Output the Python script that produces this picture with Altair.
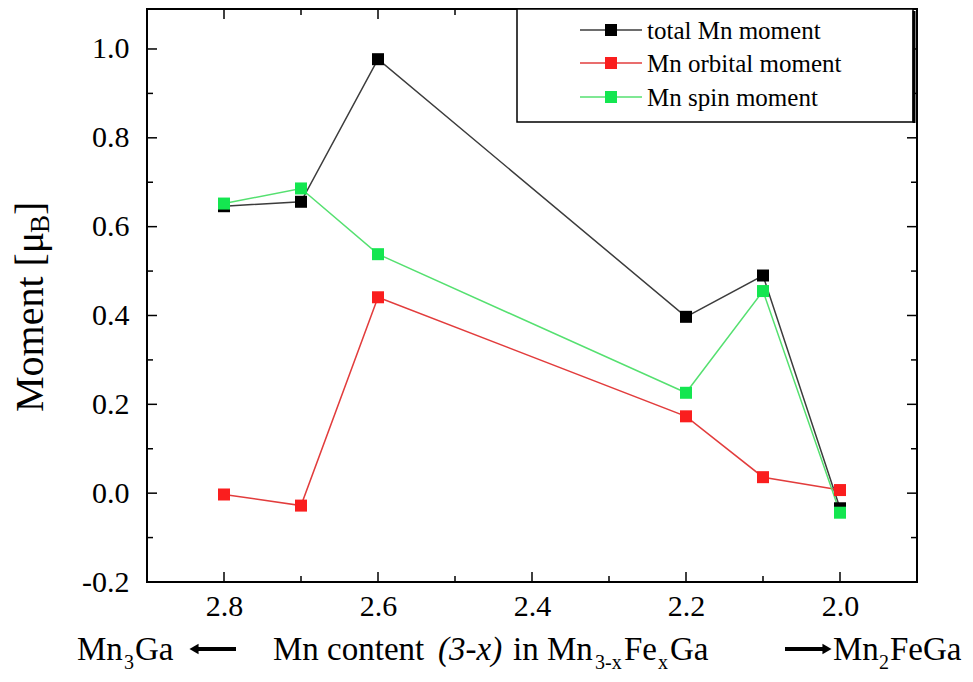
import altair as alt
import pandas as pd

# ---- data ----
mn_content = [2.8, 2.7, 2.6, 2.2, 2.1, 2.0]
total_moment = [0.646, 0.656, 0.977, 0.397, 0.490, -0.034]
orbital_moment = [-0.003, -0.028, 0.441, 0.173, 0.036, 0.007]
spin_moment = [0.652, 0.686, 0.538, 0.226, 0.455, -0.044]
series_names = ["total Mn moment", "Mn orbital moment", "Mn spin moment"]

x_major = [2.8, 2.6, 2.4, 2.2, 2.0]
x_minor = [2.7, 2.5, 2.3, 2.1]
y_major = [-0.2, 0.0, 0.2, 0.4, 0.6, 0.8, 1.0]
y_minor = [-0.1, 0.1, 0.3, 0.5, 0.7, 0.9]

rows = []
for name, vals in zip(series_names, [total_moment, orbital_moment, spin_moment]):
    for xv, mv in zip(mn_content, vals):
        rows.append({"series": name, "x": xv, "m": mv})
df = pd.DataFrame(rows)

W, H = 770, 573
FONT = "Liberation Serif, Times New Roman, serif"
line_colors = ["#3c3c3c", "#e23c3c", "#55e070"]
marker_colors = ["#000000", "#fa1e1e", "#14e650"]

xscale = alt.Scale(domain=[1.9, 2.9], reverse=True, nice=False, zero=False)
yscale = alt.Scale(domain=[-0.2, 1.09], nice=False, zero=False)

x_axis = alt.Axis(values=x_major, format=".1f", labelFont=FONT, labelFontSize=30,
                  labelColor="black", ticks=False, tickSize=0, domain=False, grid=False,
                  title=None, labelPadding=9, labelFlush=False)
y_axis = alt.Axis(values=y_major, labelFont=FONT, labelFontSize=30, labelColor="black",
                  labelExpr="datum.value < 0 ? '-' + format(-datum.value, '.1f') : format(datum.value, '.1f')",
                  ticks=False, tickSize=0, domain=False, grid=False, title=None,
                  labelPadding=18)

lines = alt.Chart(df).mark_line(strokeWidth=1.5).encode(
    x=alt.X("x:Q", scale=xscale, axis=x_axis),
    y=alt.Y("m:Q", scale=yscale, axis=y_axis),
    color=alt.Color("series:N", scale=alt.Scale(domain=series_names, range=line_colors), legend=None),
)
squares = alt.Chart(df).mark_square(size=144, opacity=1).encode(
    x=alt.X("x:Q", scale=xscale, axis=x_axis),
    y=alt.Y("m:Q", scale=yscale, axis=y_axis),
    color=alt.Color("series:N", scale=alt.Scale(domain=series_names, range=marker_colors), legend=None),
)

# inward ticks on all four sides
def xticks(vals, length, top):
    d = pd.DataFrame({"x": vals})
    y1, y2 = (0, length) if top else (H, H - length)
    return alt.Chart(d).mark_rule(color="black", strokeWidth=1.5).encode(
        x=alt.X("x:Q", scale=xscale, axis=x_axis), y=alt.value(y1), y2=alt.value(y2))

def yticks(vals, length, right):
    d = pd.DataFrame({"m": vals})
    x1, x2 = (W, W - length) if right else (0, length)
    return alt.Chart(d).mark_rule(color="black", strokeWidth=1.5).encode(
        y=alt.Y("m:Q", scale=yscale, axis=y_axis), x=alt.value(x1), x2=alt.value(x2))

ticks = [xticks(x_major, 10, False), xticks(x_minor, 6, False),
         xticks(x_major, 10, True), xticks(x_minor, 6, True),
         yticks(y_major, 10, False), yticks(y_minor, 6, False),
         yticks(y_major, 10, True), yticks(y_minor, 6, True)]

one = pd.DataFrame({"a": [0]})

# legend box
legend_box = alt.Chart(one).mark_rect(fill="white", stroke="black", strokeWidth=1.5).encode(
    x=alt.value(370), x2=alt.value(766), y=alt.value(0), y2=alt.value(113))
legend_shadow = alt.Chart(one).mark_rule(color="black", strokeWidth=3).encode(
    x=alt.value(767), y=alt.value(2), y2=alt.value(114))
legend_layers = [legend_box, legend_shadow]
row_y = [21, 54, 88]
for i, name in enumerate(series_names):
    legend_layers.append(alt.Chart(one).mark_rule(color=line_colors[i], strokeWidth=1.5).encode(
        x=alt.value(433), x2=alt.value(495), y=alt.value(row_y[i])))
    legend_layers.append(alt.Chart(one).mark_square(size=144, opacity=1, color=marker_colors[i]).encode(
        x=alt.value(464), y=alt.value(row_y[i])))
    legend_layers.append(alt.Chart(pd.DataFrame({"t": [name]})).mark_text(
        font=FONT, fontSize=25, align="left", baseline="middle", color="black").encode(
        text="t:N", x=alt.value(500), y=alt.value(row_y[i] + 1)))

def txt(s, x, y, size, style="normal", angle=0):
    return alt.Chart(pd.DataFrame({"t": [s]})).mark_text(
        font=FONT, fontSize=size, fontStyle=style, align="left", baseline="alphabetic",
        color="black", angle=angle).encode(text="t:N", x=alt.value(x), y=alt.value(y))

BASE, SUB = 651, 660
MAIN, SMALL = 33, 20
title_parts = [
    txt("Mn", -70, BASE, MAIN), txt("3", -23, SUB, SMALL), txt("Ga", -12, BASE, MAIN),
    txt("Mn content", 126, BASE, MAIN), txt("(3-x)", 291, BASE, MAIN, "italic"),
    txt("in", 366, BASE, MAIN), txt("Mn", 400, BASE, MAIN), txt("3-x", 448, SUB, SMALL),
    txt("Fe", 477, BASE, MAIN), txt("x", 511, SUB, SMALL), txt("Ga", 523, BASE, MAIN),
    txt("Mn", 686, BASE, MAIN), txt("2", 732, SUB, SMALL), txt("FeGa", 743, BASE, MAIN),
    # y title (rotated)
    txt("Moment [\u03bc", -104, 403, 40, angle=270),
    txt("B", -98, 224, 27, angle=270),
    txt("]", -104, 206, 40, angle=270),
]

# arrows
arrows = [
    alt.Chart(one).mark_rule(color="black", strokeWidth=4).encode(
        x=alt.value(50), x2=alt.value(89), y=alt.value(640)),
    alt.Chart(one).mark_point(shape="triangle-left", filled=True, size=110, color="black", opacity=1).encode(
        x=alt.value(47), y=alt.value(640)),
    alt.Chart(one).mark_rule(color="black", strokeWidth=4).encode(
        x=alt.value(638), x2=alt.value(677), y=alt.value(640)),
    alt.Chart(one).mark_point(shape="triangle-right", filled=True, size=110, color="black", opacity=1).encode(
        x=alt.value(680), y=alt.value(640)),
]

chart = alt.layer(lines, squares, *ticks, *legend_layers, *title_parts, *arrows).resolve_scale(
    color="independent"
).properties(
    width=W, height=H,
    padding={"left": 139, "top": 1, "right": 48, "bottom": 92},
    autosize=alt.AutoSizeParams(type="none"),
    background="white",
).configure_view(stroke="black", strokeWidth=2)

chart.save("out.html", embed_options={"renderer": "svg", "actions": False})
